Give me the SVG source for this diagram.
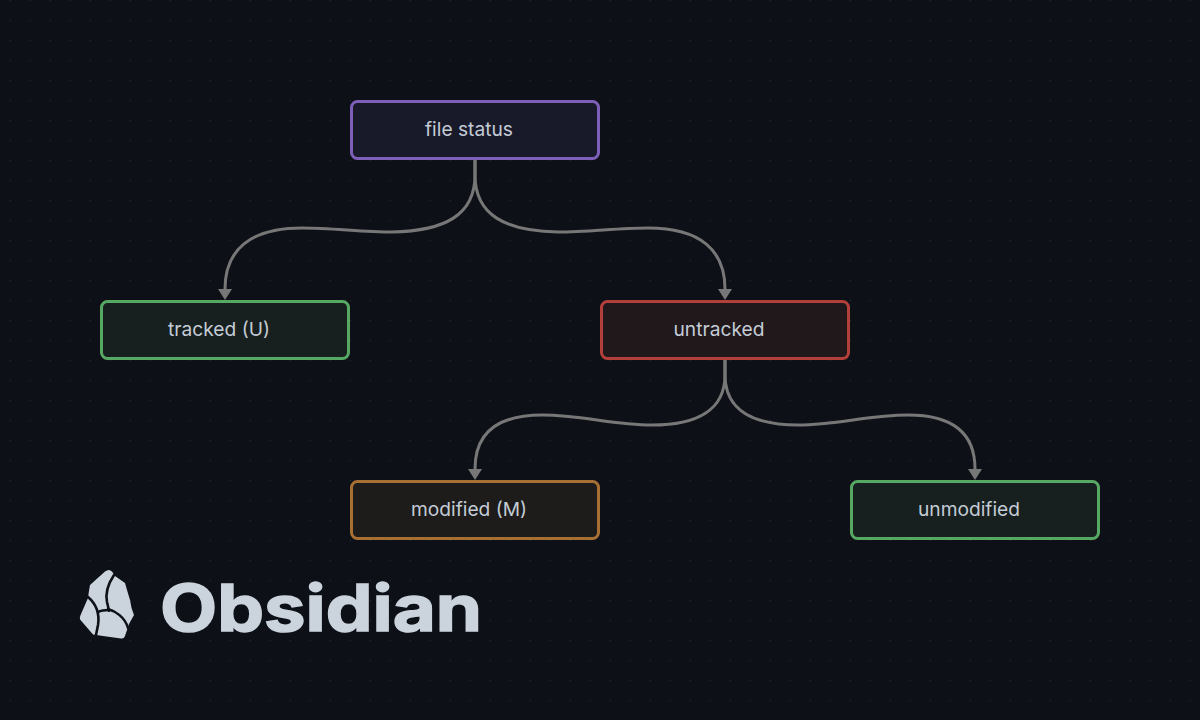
<svg xmlns="http://www.w3.org/2000/svg" width="1200" height="720" viewBox="0 0 1200 720">
<style>
.box{stroke-width:3}
.lbl{font-family:"Inter","Liberation Sans",sans-serif;font-size:19.200px;fill:#c4ccd6;text-anchor:middle}
.edge{fill:none;stroke:#777;stroke-width:3;marker-end:url(#arrow)}
.crack{fill:none;stroke:#0d1117;stroke-width:2.600;stroke-linecap:round}
</style>
<defs>
<pattern id="dots" width="20" height="20" patternUnits="userSpaceOnUse">
<rect x="10" y="0" width="1" height="1" fill="#2a2e35"/>
</pattern>
<marker id="arrow" markerUnits="userSpaceOnUse" markerWidth="12" markerHeight="14" refX="0" refY="7" orient="auto">
<path d="M0,0L11,7L0,14Z" fill="#777"/>
</marker>
</defs>
<rect width="1200" height="720" fill="#0d1117"/>
<rect width="1200" height="720" fill="url(#dots)"/>
<g id="connectors">
<path class="edge" d="M475,160L475,175C475,215 445,231 392,232C362,232 332,228 302,228C250,228 225,250 225,289"/>
<path class="edge" d="M475,160L475,175C475,215 505,231 558,232C588,232 618,228 648,228C700,228 725,250 725,289"/>
<path class="edge" d="M725,360L725,375C725,410 697,425 652,425C612,425 582,415 542,415C495,415 475,435 475,469"/>
<path class="edge" d="M725,360L725,375C725,410 753,425 798,425C838,425 868,415 908,415C955,415 975,435 975,469"/>
</g>
<g id="node-file-status">
<rect class="box" x="351.500" y="101.500" width="247" height="57" rx="6" fill="#191a29" stroke="#7e5fb8"/>
<text class="lbl" x="469" y="136">file status</text>
</g>
<g id="node-tracked">
<rect class="box" x="101.500" y="301.500" width="247" height="57" rx="6" fill="#18201f" stroke="#57a862"/>
<text class="lbl" x="219" y="336">tracked (U)</text>
</g>
<g id="node-untracked">
<rect class="box" x="601.500" y="301.500" width="247" height="57" rx="6" fill="#21181c" stroke="#b33f3a"/>
<text class="lbl" x="719" y="336">untracked</text>
</g>
<g id="node-modified">
<rect class="box" x="351.500" y="481.500" width="247" height="57" rx="6" fill="#1d1c1b" stroke="#a86f35"/>
<text class="lbl" x="469" y="516">modified (M)</text>
</g>
<g id="node-unmodified">
<rect class="box" x="851.500" y="481.500" width="247" height="57" rx="6" fill="#18201f" stroke="#57a862"/>
<text class="lbl" x="969" y="516">unmodified</text>
</g>
<g id="logo">
<path fill="#cbd3dc" d="M105,571.500Q109,568.500 112,571.500L115,576L125,583Q127,590 130,600Q131,608 134,615L129,624Q127,630 125,636Q124,639 121,638.500L103,636L93,634.500L80.500,620Q79,618 81,614L88,598Q89,590 90,585Z"/>
<path class="crack" d="M114,575C108,584 105,592 107,602C109,610 109,612 109,610"/>
<path class="crack" d="M108,609C115,611 125,617 128,628"/>
<path class="crack" d="M88,597C95,603 100,612 98,625L96,635"/>
<path class="crack" d="M98,612C102,610 105,610 109,610"/>
<text x="160" y="631" font-family="Inter,'Liberation Sans',sans-serif" font-weight="700" font-size="64" fill="#cbd3dc" stroke="#cbd3dc" stroke-width="1.500" textLength="322" lengthAdjust="spacingAndGlyphs">Obsidian</text>
</g>
</svg>
